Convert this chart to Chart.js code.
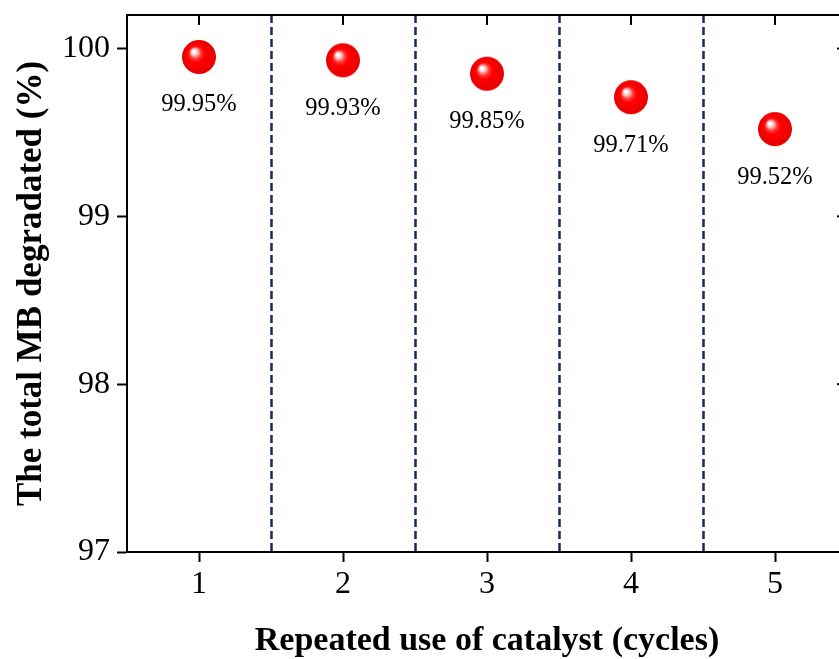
<!DOCTYPE html>
<html>
<head>
<meta charset="utf-8">
<script src="https://cdn.jsdelivr.net/npm/chart.js@4.4.1/dist/chart.umd.min.js"></script>
<style>
  html, body { margin: 0; padding: 0; background: #fff; overflow: hidden; }
  #wrap { position: absolute; left: 0; top: 0; width: 850px; height: 659px; }
</style>
</head>
<body>
<div id="wrap"><canvas id="c" width="850" height="659"></canvas></div>
<script>
// Recycling runs and the share of MB degraded in each run
const cycles = [1, 2, 3, 4, 5];
const degraded = [99.95, 99.93, 99.85, 99.71, 99.52];
const yTicks = [97, 98, 99, 100];
const xTicks = [1, 2, 3, 4, 5];
const separators = [1.5, 2.5, 3.5, 4.5];

const SERIF = '"Liberation Serif", "Times New Roman", serif';

// Glossy red ball used as the point marker
function makeBall(r) {
  const cv = document.createElement('canvas');
  cv.width = cv.height = r * 2 + 2;
  const g = cv.getContext('2d');
  const cx = r + 1, cy = r + 1;
  const grad = g.createRadialGradient(cx - r * 0.33, cy - r * 0.36, 0, cx, cy, r);
  grad.addColorStop(0.0, '#ffffff');
  grad.addColorStop(0.08, '#ffffff');
  grad.addColorStop(0.2, '#ffb8b8');
  grad.addColorStop(0.34, '#ff3a3a');
  grad.addColorStop(0.5, '#ff0000');
  grad.addColorStop(1.0, '#e80000');
  g.fillStyle = grad;
  g.beginPath();
  g.arc(cx, cy, r, 0, Math.PI * 2);
  g.fill();
  return cv;
}
const ball = makeBall(17);

// Frame (top/right axes with inward ticks), dashed separators and value labels
const decor = {
  id: 'decor',
  beforeDatasetsDraw(chart) {
    const { ctx, chartArea: a, scales: { x, y } } = chart;
    ctx.save();
    ctx.strokeStyle = '#13296a';
    ctx.lineWidth = 2.5;
    ctx.setLineDash([8, 4]);
    separators.forEach(v => {
      const px = Math.round(x.getPixelForValue(v)) + 0.5;
      ctx.beginPath();
      ctx.moveTo(px, a.top);
      ctx.lineTo(px, a.bottom);
      ctx.stroke();
    });
    ctx.setLineDash([]);
    ctx.strokeStyle = '#000';
    ctx.lineWidth = 2;
    ctx.beginPath();
    ctx.moveTo(a.left, a.top);
    ctx.lineTo(a.right, a.top);
    ctx.lineTo(a.right, a.bottom);
    ctx.stroke();
    xTicks.forEach(v => {
      const px = x.getPixelForValue(v);
      ctx.beginPath();
      ctx.moveTo(px, a.top);
      ctx.lineTo(px, a.top + 10);
      ctx.stroke();
    });
    yTicks.forEach(v => {
      const py = y.getPixelForValue(v);
      ctx.beginPath();
      ctx.moveTo(a.right, py);
      ctx.lineTo(a.right - 10, py);
      ctx.stroke();
    });
    ctx.restore();
  },
  afterDatasetsDraw(chart) {
    const { ctx } = chart;
    const meta = chart.getDatasetMeta(0);
    ctx.save();
    ctx.fillStyle = '#000';
    ctx.font = '24.5px ' + SERIF;
    ctx.textAlign = 'center';
    ctx.textBaseline = 'middle';
    meta.data.forEach((pt, i) => {
      ctx.fillText(degraded[i].toFixed(2) + '%', pt.x, pt.y + 48);
    });
    ctx.restore();
  }
};

new Chart(document.getElementById('c'), {
  type: 'scatter',
  data: {
    datasets: [{
      data: cycles.map((c, i) => ({ x: c, y: degraded[i] })),
      pointStyle: ball,
      pointRadius: 17,
      pointHoverRadius: 17
    }]
  },
  options: {
    responsive: false,
    animation: false,
    events: [],
    layout: { autoPadding: false, padding: { top: 15, right: 3, left: 0, bottom: 0 } },
    plugins: { legend: { display: false }, tooltip: { enabled: false } },
    scales: {
      x: {
        type: 'linear',
        min: 0.5,
        max: 5.5,
        afterBuildTicks: s => { s.ticks = xTicks.map(v => ({ value: v })); },
        afterFit: s => { s.height = 107; s.paddingLeft = 0; s.paddingRight = 0; },
        grid: { drawOnChartArea: false, tickLength: 10, tickWidth: 2, color: '#000' },
        border: { color: '#000', width: 2 },
        ticks: { color: '#000', padding: 3, font: { family: SERIF, size: 32 }, maxRotation: 0 },
        title: {
          display: true,
          text: 'Repeated use of catalyst (cycles)',
          color: '#000',
          font: { family: SERIF, size: 34, weight: 'bold', lineHeight: 1.0 },
          padding: { top: 0, bottom: 1 }
        }
      },
      y: {
        type: 'linear',
        min: 97,
        max: 100.2,
        afterBuildTicks: s => { s.ticks = yTicks.map(v => ({ value: v })); },
        afterFit: s => { s.width = 127; s.paddingTop = 0; s.paddingBottom = 0; },
        grid: { drawOnChartArea: false, tickLength: 10, tickWidth: 2, color: '#000' },
        border: { color: '#000', width: 2 },
        ticks: { color: '#000', padding: 7, font: { family: SERIF, size: 32 } },
        title: {
          display: true,
          text: 'The total MB degradated (%)',
          color: '#000',
          font: { family: SERIF, size: 35, weight: 'bold' },
          padding: { top: 11, bottom: 0 }
        }
      }
    }
  },
  plugins: [decor]
});
</script>
</body>
</html>
